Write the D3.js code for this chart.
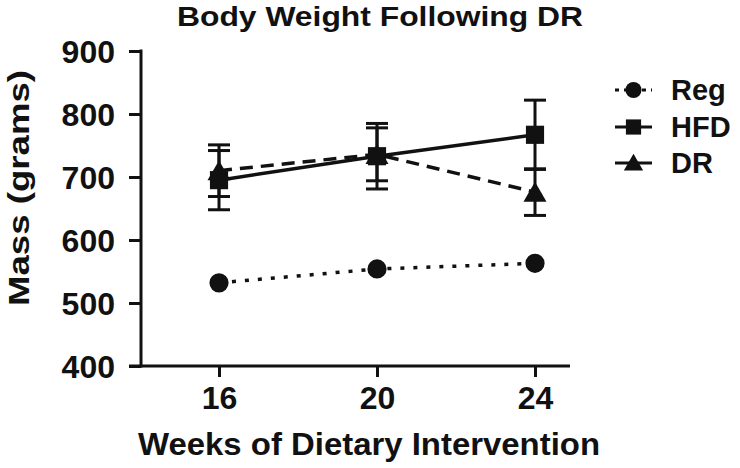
<!DOCTYPE html>
<html><head><meta charset="utf-8">
<script src="https://cdn.jsdelivr.net/npm/d3@7"></script>
<style>
html,body{margin:0;padding:0;background:#fff;}
svg text{font-family:"Liberation Sans",Arial,sans-serif;font-weight:bold;fill:#111;}
</style></head>
<body>
<svg id="chart" width="740" height="468"></svg>
<script>
const weeks = [16, 20, 24];
const seriesNames = ["Reg", "HFD", "DR"];
const regMean = [532, 554, 563];
const regErr = [0, 0, 0];
const hfdMean = [695, 733, 767];
const hfdErr = [47, 52, 55];
const drMean = [710, 736, 676];
const drErr = [41, 42, 37];
const yTicks = [400, 500, 600, 700, 800, 900];
const xTicks = [16, 20, 24];
const title = "Body Weight Following DR";
const xTitle = "Weeks of Dietary Intervention";
const yTitle = "Mass (grams)";

const svg = d3.select("#chart");
const x = d3.scaleLinear().domain([14.025, 24.886]).range([141, 570]);
const y = d3.scaleLinear().domain([400, 900]).range([366, 51]);

const series = [
  {name: "Reg", mean: regMean, err: regErr, dash: "4,9", shape: d3.symbolCircle, size: 290},
  {name: "HFD", mean: hfdMean, err: hfdErr, dash: null, shape: d3.symbolSquare, size: 330},
  {name: "DR", mean: drMean, err: drErr, dash: "13,8", shape: d3.symbolTriangle, size: 230}
];

// axes
const yAxis = d3.axisLeft(y).tickValues(yTicks).tickSize(12).tickPadding(14);
const gy = svg.append("g").attr("transform", "translate(141,0)").call(yAxis);
gy.select(".domain").attr("stroke", "#111").attr("stroke-width", 3).attr("d", "M0,49.5V367.5");
gy.selectAll(".tick line").attr("stroke", "#111").attr("stroke-width", 3);
gy.selectAll(".tick text").style("font-size", "32px").attr("dy", "0.36em");

const xAxis = d3.axisBottom(x).tickValues(xTicks).tickSize(11).tickPadding(6);
const gx = svg.append("g").attr("transform", "translate(0,366)").call(xAxis);
gx.select(".domain").attr("stroke", "#111").attr("stroke-width", 3).attr("d", "M129,0H570");
gx.selectAll(".tick line").attr("stroke", "#111").attr("stroke-width", 3);
gx.selectAll(".tick text").style("font-size", "32px").attr("dy", "0.82em");

// titles
svg.append("text").attr("x", 380).attr("y", 26).attr("text-anchor", "middle")
  .attr("textLength", 406).attr("lengthAdjust", "spacingAndGlyphs")
  .style("font-size", "28px").text(title);
svg.append("text").attr("x", 369).attr("y", 455).attr("text-anchor", "middle")
  .attr("textLength", 462).attr("lengthAdjust", "spacingAndGlyphs")
  .style("font-size", "31px").text(xTitle);
svg.append("text").attr("transform", "translate(29,188) rotate(-90)").attr("text-anchor", "middle")
  .attr("textLength", 236).attr("lengthAdjust", "spacingAndGlyphs")
  .style("font-size", "30px").text(yTitle);

// error bars
const plot = svg.append("g");
series.forEach(s => {
  s.mean.forEach((m, i) => {
    if (!s.err[i]) return;
    const cx = x(weeks[i]);
    const g = plot.append("g").attr("stroke", "#111").attr("stroke-width", 3);
    g.append("line").attr("x1", cx).attr("x2", cx).attr("y1", y(m - s.err[i])).attr("y2", y(m + s.err[i]));
    [m - s.err[i], m + s.err[i]].forEach(v => {
      g.append("line").attr("x1", cx - 11).attr("x2", cx + 11).attr("y1", y(v)).attr("y2", y(v));
    });
  });
});

// lines
const line = d3.line().x((d, i) => x(weeks[i])).y(d => y(d));
series.forEach(s => {
  plot.append("path").datum(s.mean).attr("d", line).attr("fill", "none")
    .attr("stroke", "#111").attr("stroke-width", 3.5)
    .attr("stroke-dasharray", s.dash);
});

// markers
series.forEach(s => {
  const sym = d3.symbol().type(s.shape).size(s.size);
  plot.selectAll(null).data(s.mean).enter().append("path")
    .attr("d", sym)
    .attr("transform", (d, i) => `translate(${x(weeks[i])},${y(d) + (s.shape === d3.symbolTriangle ? 3 : 0)})`)
    .attr("fill", "#111");
});

// legend
const legendY = [90, 127, 163];
series.forEach((s, i) => {
  const g = svg.append("g").attr("transform", `translate(0,${legendY[i]})`);
  g.append("line").attr("x1", 615).attr("x2", 652).attr("y1", 0).attr("y2", 0)
    .attr("stroke", "#111").attr("stroke-width", 3)
    .attr("stroke-dasharray", s.name === "Reg" ? "4,5" : null);
  g.append("path").attr("d", d3.symbol().type(s.shape).size(s.size * 0.7))
    .attr("transform", `translate(633.5,${s.shape === d3.symbolTriangle ? 2 : 0})`).attr("fill", "#111");
  g.append("text").attr("x", 671).attr("y", 0).attr("dy", "0.36em")
    .style("font-size", "29px").text(seriesNames[i]);
});
</script>
</body></html>
